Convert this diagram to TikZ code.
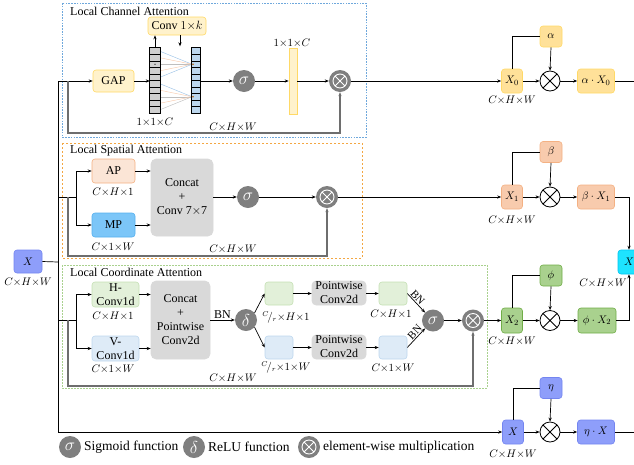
\documentclass[tikz,border=0pt]{standalone}
\usepackage{fontspec}
\setmainfont{Liberation Serif}
\usetikzlibrary{arrows.meta,calc}
\definecolor{ylf}{HTML}{FFF2CC}
\definecolor{yld}{HTML}{FFD966}
\definecolor{ydf}{HTML}{FFE199}
\definecolor{olf}{HTML}{FBE5D6}
\definecolor{old}{HTML}{F4B183}
\definecolor{odf}{HTML}{F8CBAD}
\definecolor{mpf}{HTML}{7CC6F8}
\definecolor{mpd}{HTML}{55B0EE}
\definecolor{glf}{HTML}{E2F0D9}
\definecolor{gld}{HTML}{C5E0B4}
\definecolor{gdf}{HTML}{A9D18E}
\definecolor{gdd}{HTML}{70AD47}
\definecolor{blf}{HTML}{DEEBF7}
\definecolor{bld}{HTML}{BDD7EE}
\definecolor{pbf}{HTML}{8E9EFA}
\definecolor{pbd}{HTML}{7485F0}
\definecolor{cyf}{HTML}{1EE3FF}
\definecolor{cyd}{HTML}{00C4EE}
\definecolor{grf}{HTML}{D9D9D9}
\definecolor{cgray}{HTML}{7F7F7F}
\definecolor{skipc}{HTML}{6E6E6E}
\definecolor{cellg}{HTML}{D0D0D0}
\definecolor{cellb}{HTML}{BDD7EE}
\definecolor{lnb}{HTML}{9DC3E6}
\definecolor{lno}{HTML}{F8CBAD}
\definecolor{lng}{HTML}{BFBFBF}
\definecolor{boxb}{HTML}{6FA8DC}
\definecolor{boxo}{HTML}{F4A742}
\definecolor{boxg}{HTML}{A9D18E}
\begin{document}
\begin{tikzpicture}[x=1pt,y=-1pt,
  font=\fontsize{12}{14}\selectfont,
  >={Stealth[length=4pt,width=3.2pt]},
  box/.style={rounded corners=3pt,inner sep=0pt,align=center,line width=0.6pt},
  ylight/.style={box,fill=ylf,draw=yld},
  ydark/.style={box,fill=ydf,draw=yld,font=\fontsize{11}{13}\selectfont},
  olight/.style={box,fill=olf,draw=old},
  odark/.style={box,fill=odf,draw=old,font=\fontsize{11}{13}\selectfont},
  mpbox/.style={box,fill=mpf,draw=mpd},
  glight/.style={box,fill=glf,draw=gld},
  gdark/.style={box,fill=gdf,draw=gdd,font=\fontsize{11}{13}\selectfont},
  blight/.style={box,fill=blf,draw=bld},
  pdark/.style={box,fill=pbf,draw=pbd,font=\fontsize{11}{13}\selectfont},
  cybox/.style={box,fill=cyf,draw=cyd,font=\fontsize{11}{13}\selectfont},
  gbox/.style={box,fill=grf,draw=grf,rounded corners=5pt},
  gc/.style={circle,fill=cgray,text=white,minimum size=22,inner sep=0,font=\fontsize{17}{17}\selectfont},
  og/.style={circle,fill=cgray,minimum size=22,inner sep=0,
    path picture={\coordinate (pc) at (path picture bounding box.center);
      \draw[white,line width=0.9pt] (pc) circle (7pt)
        ($(pc)+(45:7pt)$) -- ($(pc)+(225:7pt)$)
        ($(pc)+(135:7pt)$) -- ($(pc)+(315:7pt)$);}},
  ow/.style={circle,draw=black,fill=white,line width=0.8pt,minimum size=20,inner sep=0,
    path picture={\draw[line width=0.8pt] (path picture bounding box.north west) -- (path picture bounding box.south east)
      (path picture bounding box.north east) -- (path picture bounding box.south west);}},
  lab/.style={font=\fontsize{10.5}{12}\selectfont,inner sep=0},
  ttl/.style={anchor=west,inner sep=0},
  arr/.style={->,line width=0.7pt},
  ln/.style={line width=0.7pt},
  skiparr/.style={->,draw=skipc,line width=1.1pt},
  leg/.style={anchor=west,inner sep=0,font=\fontsize{13.5}{14}\selectfont}
]
\useasboundingbox (0,0) rectangle (634,464);
\clip (0,0) rectangle (634,464);

% ---------- frames ----------
\draw[boxb,line width=0.8pt,dash pattern=on 1.6pt off 1.2pt] (62,3) rectangle (366,137);
\draw[boxo,line width=0.8pt,dash pattern=on 2.4pt off 1.6pt] (62,143) rectangle (362,258);
\draw[boxg,line width=0.8pt,dash pattern=on 1.6pt off 1.4pt] (62,265) rectangle (487,388);
\node[ttl] (t1) at (70,11) {Local Channel Attention};
\node[ttl] (t2) at (70,151) {Local Spatial Attention};
\node[ttl] (t3) at (70,272) {Local Coordinate Attention};

% ---------- input ----------
\node[pdark,minimum width=28,minimum height=23] (Xin) at (28,261.5) {$X$};
\node[lab] (lXin) at (28,282) {$C{\times}H{\times}W$};
\coordinate (vtop) at (58,81);
\coordinate (vj) at (58,262);
\draw[ln] (Xin.east) -- (vj);

% ---------- section 1: channel ----------
\node[ylight,minimum width=41,minimum height=22] (gap) at (113.5,81) {GAP};
\node[ylight,minimum width=58,minimum height=18] (conv) at (177,26) {Conv $1{\times}k$};
\node[fill=cellg,minimum width=10,minimum height=65,inner sep=0] (lcol) at (155,80.5) {};
\node[fill=cellb,minimum width=8,minimum height=65,inner sep=0] (rcol) at (196,80.5) {};
\foreach \i/\c in {0/lnb,1/lno,2/lng,3/lno,4/lnb}
  \draw[draw=\c,line width=0.45pt] (160,{48+6.5*(\i+0.5)}) -- (192,64.25);
\foreach \i/\c in {5/lnb,6/lno,7/lng,8/lno,9/lng}
  \draw[draw=\c,line width=0.45pt] (160,{48+6.5*(\i+0.5)}) -- (192,96.75);
\foreach \i in {1,...,9}{
  \draw[line width=0.6pt] (150,{48+6.5*\i}) -- (160,{48+6.5*\i});
  \draw[line width=0.6pt] (192,{48+6.5*\i}) -- (200,{48+6.5*\i});}
\draw[line width=0.8pt] (lcol.north west) rectangle (lcol.south east);
\draw[line width=0.8pt] (rcol.north west) rectangle (rcol.south east);
\fill (155,64.25) circle (0.6pt);
\fill[orange!70!black] (193,64.25) circle (0.9pt);
\fill[orange!70!black] (193,96.75) circle (0.9pt);
\node[lab] (l11) at (155,122) {$1{\times}1{\times}C$};
\node[gc] (s1) at (244,81) {$\sigma$};
\node[fill=ylf,draw=yld,line width=0.6pt,minimum width=8,minimum height=66,inner sep=0] (bar) at (293,81) {};
\node[lab] (l12) at (292,43) {$1{\times}1{\times}C$};
\node[og] (m1) at (340,81) {};
\node[lab] (l13) at (233,127) {$C{\times}H{\times}W$};
\draw[arr] (vtop) -- (gap.west);
\draw[arr] (gap.east) -- (gap.east -| lcol.west);
\draw[arr] (lcol.north) -- (lcol.north |- conv.south);
\draw[arr] ([xshift=3pt]conv.south) -- ++(0,11);
\draw[arr] (rcol.east |- s1) -- (s1.west);
\draw[arr] (s1.east) -- (s1 -| bar.west);
\draw[arr] (bar.east |- m1) -- (m1.west);
\coordinate (b1) at (68,81);
\coordinate (c1) at (340,133);
\draw[skiparr] (b1) |- (c1) -- (m1.south);

\node[ydark,minimum width=21,minimum height=24] (X0) at (512,81) {$X_0$};
\node[lab] (lX0) at (512,100) {$C{\times}H{\times}W$};
\node[ydark,minimum width=22,minimum height=21] (alpha) at (551,36.5) {$\alpha$};
\node[ow] (mu1) at (550,81) {};
\node[ydark,minimum width=37,minimum height=24] (aX0) at (596,81) {$\alpha\cdot X_0$};
\coordinate (e1) at (660,81);
\draw[arr] (m1.east) -- (X0.west);
\draw[ln] (X0.north) |- (alpha.west);
\draw[arr] (alpha.south) -- (mu1.north);
\draw[arr] (X0.east) -- (mu1.west);
\draw[arr] (mu1.east) -- (aX0.west);
\draw[ln] (aX0.east) -- (e1);

% ---------- section 2: spatial ----------
\node[olight,minimum width=43,minimum height=24] (AP) at (113.5,171) {AP};
\node[lab] (lAP) at (113,192) {$C{\times}H{\times}1$};
\node[mpbox,minimum width=43,minimum height=24] (MP) at (113.5,225) {MP};
\node[lab] (lMP) at (113,247) {$C{\times}1{\times}W$};
\node[gbox,minimum width=62,minimum height=77] (cc2) at (182,197.5) {Concat\\+\\Conv 7${\times}$7};
\node[gc] (s2) at (248,197) {$\sigma$};
\node[og] (m2) at (327,197) {};
\node[lab] (l23) at (233,249) {$C{\times}H{\times}W$};
\coordinate (a2) at (58,197);
\coordinate (b2) at (76,197);
\coordinate (b2s) at (68,197);
\coordinate (c2) at (327,256);
\draw[ln] (a2) -- (b2);
\draw[arr] (b2) |- (AP.west);
\draw[arr] (b2) |- (MP.west);
\draw[skiparr] (b2s) |- (c2) -- (m2.south);
\draw[arr] (AP.east) -- (AP.east -| cc2.west);
\draw[arr] (MP.east) -- (MP.east -| cc2.west);
\draw[arr] (cc2.east |- s2) -- (s2.west);
\draw[arr] (s2.east) -- (m2.west);

\node[odark,minimum width=21,minimum height=24] (X1) at (512,197) {$X_1$};
\node[lab] (lX1) at (512,220) {$C{\times}H{\times}W$};
\node[odark,minimum width=22,minimum height=21] (beta) at (551,152) {$\beta$};
\node[ow] (mu2) at (550,197) {};
\node[odark,minimum width=37,minimum height=24] (bX1) at (596,197) {$\beta\cdot X_1$};
\node[cybox,minimum width=22,minimum height=24] (Xc) at (629,262) {$X$};
\node[lab] (lXc) at (603,283) {$C{\times}H{\times}W$};
\draw[arr] (m2.east) -- (X1.west);
\draw[ln] (X1.north) |- (beta.west);
\draw[arr] (beta.south) -- (mu2.north);
\draw[arr] (X1.east) -- (mu2.west);
\draw[arr] (mu2.east) -- (bX1.west);
\draw[arr] (bX1.east) -| (Xc.north);

% ---------- section 3: coordinate ----------
\node[glight,minimum width=47,minimum height=25] (HC) at (115.5,294.5) {H-\\Conv1d};
\node[lab] (lHC) at (113,316) {$C{\times}H{\times}1$};
\node[blight,minimum width=47,minimum height=25] (VC) at (115.5,348.5) {V-\\Conv1d};
\node[lab] (lVC) at (113,369) {$C{\times}1{\times}W$};
\node[gbox,minimum width=59,minimum height=78] (cc3) at (180.5,320) {Concat\\+\\Pointwise\\Conv2d};
\node[gc] (d3) at (246,320) {$\delta$};
\node[glight,minimum width=28,minimum height=23] (gb1) at (279,293.5) {};
\node[blight,minimum width=28,minimum height=23] (bb1) at (279,347.5) {};
\node[lab] (lgb1) at (286,317) {${}^{C}\!/_{r}{\times}H{\times}1$};
\node[lab] (lbb1) at (286,367) {${}^{C}\!/_{r}{\times}1{\times}W$};
\node[gbox,minimum width=54,minimum height=24,rounded corners=4pt] (pw1) at (339,293) {Pointwise\\Conv2d};
\node[gbox,minimum width=54,minimum height=24,rounded corners=4pt] (pw2) at (339,347) {Pointwise\\Conv2d};
\node[glight,minimum width=28,minimum height=23] (gb2) at (393,293.5) {};
\node[blight,minimum width=28,minimum height=23] (bb2) at (393,347.5) {};
\node[lab] (lgb2) at (391,314) {$C{\times}H{\times}1$};
\node[lab] (lbb2) at (393,368) {$C{\times}1{\times}W$};
\node[gc] (s3) at (433,320.5) {$\sigma$};
\node[og] (m3) at (473,320.5) {};
\node[lab] (l33) at (233,378) {$C{\times}H{\times}W$};
\coordinate (a3) at (58,320);
\coordinate (b3) at (76,320);
\coordinate (b3s) at (68,320);
\coordinate (c3) at (473,386);
\draw[ln] (a3) -- (b3);
\draw[arr] (b3) |- (HC.west);
\draw[arr] (b3) |- (VC.west);
\draw[skiparr] (b3s) |- (c3) -- (m3.south);
\draw[arr] (HC.east) -- (HC.east -| cc3.west);
\draw[arr] (VC.east) -- (VC.east -| cc3.west);
\draw[arr] (cc3.east |- d3) -- node[above=1pt,inner sep=0] (bn1) {BN} (d3.west);
\draw[arr] (d3.40) -- (gb1.west);
\draw[arr] (d3.-40) -- (bb1.west);
\draw[arr] (gb1.east) -- (gb1.east -| pw1.west);
\draw[arr] (bb1.east) -- (bb1.east -| pw2.west);
\draw[arr] (pw1.east |- gb2) -- (gb2.west);
\draw[arr] (pw2.east |- bb2) -- (bb2.west);
\draw[arr] (gb2.east) -- node[sloped,above=1pt,inner sep=0,pos=0.38,font=\fontsize{11}{12}\selectfont] (bn2) {BN} (s3.135);
\draw[arr] (bb2.east) -- node[sloped,above=1pt,inner sep=0,pos=0.62,font=\fontsize{11}{12}\selectfont] (bn3) {BN} (s3.225);
\draw[arr] (s3.east) -- (m3.west);

\node[gdark,minimum width=21,minimum height=25] (X2) at (512,320.5) {$X_2$};
\node[lab] (lX2) at (512,341) {$C{\times}H{\times}W$};
\node[gdark,minimum width=22,minimum height=21] (phi) at (551,275.5) {$\phi$};
\node[ow] (mu3) at (550,320.5) {};
\node[gdark,minimum width=38,minimum height=25] (pX2) at (597,320.5) {$\phi\cdot X_2$};
\draw[arr] (m3.east) -- (X2.west);
\draw[ln] (X2.north) |- (phi.west);
\draw[arr] (phi.south) -- (mu3.north);
\draw[arr] (X2.east) -- (mu3.west);
\draw[arr] (mu3.east) -- (pX2.west);
\draw[arr] (pX2.east) -| (Xc.south);

% ---------- section 4: identity ----------
\node[pdark,minimum width=21,minimum height=24] (Xb) at (513,432) {$X$};
\node[lab] (lXb) at (513,454) {$C{\times}H{\times}W$};
\node[pdark,minimum width=22,minimum height=21] (eta) at (551,388) {$\eta$};
\node[ow] (mu4) at (550,432) {};
\node[pdark,minimum width=37,minimum height=24] (eX) at (596,432) {$\eta\cdot X$};
\coordinate (e4) at (660,432);
\draw[arr] (vtop) |- (Xb.west);
\draw[ln] (Xb.north) |- (eta.west);
\draw[arr] (eta.south) -- (mu4.north);
\draw[arr] (Xb.east) -- (mu4.west);
\draw[arr] (mu4.east) -- (eX.west);
\draw[ln] (eX.east) -- (e4);

% ---------- legend ----------
\node[gc] (lg1) at (70,447) {$\sigma$};
\node[leg] (lt1) at (84,447) {Sigmoid function};
\node[gc] (lg2) at (194,447) {$\delta$};
\node[leg] (lt2) at (208,447) {ReLU function};
\node[og] (lg3) at (309,447) {};
\node[leg] (lt3) at (323,447) {element-wise multiplication};
\end{tikzpicture}
\end{document}
